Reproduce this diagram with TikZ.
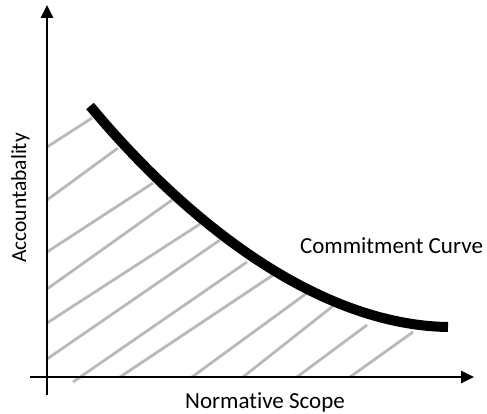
\documentclass[tikz,border=0pt]{standalone}
\usepackage{fontspec}
\setmainfont{Carlito}[Ligatures=NoCommon]
\usetikzlibrary{arrows.meta}
\definecolor{hatchgray}{RGB}{185,185,185}
\begin{document}
\begin{tikzpicture}[x=1pt,y=-1pt,
  axisline/.style={line width=2.8pt,-{Triangle[length=13pt,width=12pt]}},
  hatch/.style={line width=2.8pt,draw=hatchgray},
  ccurve/.style={line width=10pt,line cap=butt},
  lbl/.style={font=\fontsize{23}{26}\selectfont,inner sep=0pt}]
\useasboundingbox (0,0) rectangle (487,414);
% hatching
\draw[hatch] (47,147) -- (92,118);
\draw[hatch] (47,200) -- (118,148);
\draw[hatch] (47,252) -- (153,183);
\draw[hatch] (47,289) -- (172,200);
\draw[hatch] (47,323) -- (200,224);
\draw[hatch] (47,359) -- (220,240);
\draw[hatch] (73,382) -- (247,262);
\draw[hatch] (120,377) -- (273,275);
\draw[hatch] (192,377) -- (307,293);
\draw[hatch] (243,377) -- (333,306);
\draw[hatch] (297,377) -- (367,325);
\draw[hatch] (350,377) -- (413,332);
% axes
\coordinate (ybot) at (47,395);
\coordinate (ytop) at (47,5);
\coordinate (xleft) at (30,377);
\coordinate (xright) at (474,377);
\draw[axisline] (ybot) -- (ytop);
\draw[axisline] (xleft) -- (xright);
% commitment curve
\coordinate (cstart) at (90,106);
\coordinate (cend) at (448,327);
\draw[ccurve] (cstart) .. controls (190,226) and (320,325) .. (cend);
% labels
\node[lbl,anchor=base] (ccl) at (391.5,253) {Commitment Curve};
\node[lbl,anchor=base] (xl) at (265,408) {Normat\kern0pt ive Scope};
\node[lbl,font=\fontsize{21.5}{24}\selectfont,anchor=base,rotate=90] (yl) at (26,198) {Accountabality};
\end{tikzpicture}
\end{document}
